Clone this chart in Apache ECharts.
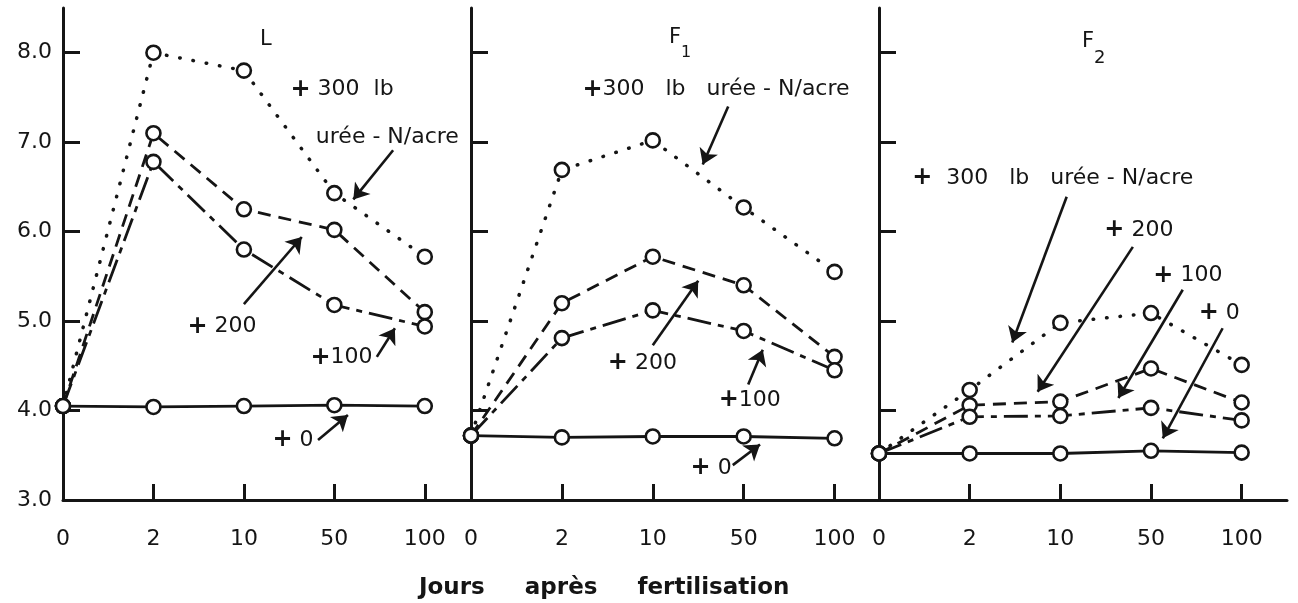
<!DOCTYPE html>
<html>
<head>
<meta charset="utf-8">
<script src="https://cdn.jsdelivr.net/npm/echarts@6/dist/echarts.min.js"></script>
<style>html,body{margin:0;padding:0;background:#fff;}#c{width:1298px;height:603px;}</style>
</head>
<body>
<div id="c"></div>
<script>
// ---- data ----
const days = ['0', '2', '10', '50', '100'];
const yTicks = [3, 4, 5, 6, 7, 8];
const panelNames = ['L', 'F1', 'F2'];

const L_0   = [4.05, 4.04, 4.05, 4.06, 4.05];
const L_100 = [4.05, 6.78, 5.80, 5.18, 4.94];
const L_200 = [4.05, 7.10, 6.25, 6.02, 5.10];
const L_300 = [4.05, 8.00, 7.80, 6.43, 5.72];

const F1_0   = [3.72, 3.70, 3.71, 3.71, 3.69];
const F1_100 = [3.72, 4.81, 5.12, 4.89, 4.45];
const F1_200 = [3.72, 5.20, 5.72, 5.40, 4.60];
const F1_300 = [3.72, 6.69, 7.02, 6.27, 5.55];

const F2_0   = [3.52, 3.52, 3.52, 3.55, 3.53];
const F2_100 = [3.52, 3.93, 3.94, 4.03, 3.89];
const F2_200 = [3.52, 4.06, 4.10, 4.47, 4.09];
const F2_300 = [3.52, 4.23, 4.98, 5.09, 4.51];

// annotation labels (data coordinates: x = day index, y = value)
const notesL  = [
  {x: 2.51, y: 7.59, t: '+ 300  lb'},
  {x: 2.79, y: 7.05, t: 'urée - N/acre'},
  {x: 1.37, y: 4.94, t: '+ 200'},
  {x: 2.73, y: 4.59, t: '+100'},
  {x: 2.31, y: 3.67, t: '+ 0'}
];
const arrowsL = [[3.65, 6.91, 3.21, 6.36], [2.00, 5.19, 2.64, 5.94], [3.47, 4.60, 3.67, 4.92], [2.82, 3.67, 3.15, 3.95]];
const notesF1 = [
  {x: 1.22, y: 7.59, t: '+300   lb   urée - N/acre'},
  {x: 1.50, y: 4.53, t: '+ 200'},
  {x: 2.72, y: 4.12, t: '+100'},
  {x: 2.41, y: 3.36, t: '+ 0'}
];
const arrowsF1 = [[2.83, 7.40, 2.55, 6.75], [2.00, 4.73, 2.50, 5.45], [3.05, 4.29, 3.21, 4.68], [2.88, 3.39, 3.18, 3.62]];
const notesF2 = [
  {x: 0.36, y: 6.60, t: '+  300   lb   urée - N/acre'},
  {x: 2.48, y: 6.02, t: '+ 200'},
  {x: 3.02, y: 5.51, t: '+ 100'},
  {x: 3.52, y: 5.09, t: '+ 0'}
];
const arrowsF2 = [[2.07, 6.39, 1.47, 4.76], [2.80, 5.83, 1.75, 4.21], [3.35, 5.35, 2.64, 4.14], [3.79, 4.92, 3.13, 3.69]];

// ---- build ----
const INK = '#151515';
const FONT = 'DejaVu Sans';
const panels = [
  {left: 63,  width: 407, s0: L_0,  s100: L_100,  s200: L_200,  s300: L_300,  notes: notesL,  arrows: arrowsL},
  {left: 471, width: 409, s0: F1_0, s100: F1_100, s200: F1_200, s300: F1_300, notes: notesF1, arrows: arrowsF1},
  {left: 879, width: 408, s0: F2_0, s100: F2_100, s200: F2_200, s300: F2_300, notes: notesF2, arrows: arrowsF2}
];
const toPts = arr => arr.map((v, i) => [i, v]);

const grid = [], xAxis = [], yAxis = [], series = [];
panels.forEach((p, k) => {
  grid.push({left: p.left, width: p.width, top: 8, bottom: 103});
  xAxis.push({
    type: 'value', gridIndex: k, min: 0, max: 4.5, interval: 1,
    axisLine: {show: true, lineStyle: {color: INK, width: 3}},
    axisTick: {show: true, inside: true, length: 16, lineStyle: {color: INK, width: 3}, customValues: [1, 2, 3, 4]},
    axisLabel: {show: true, customValues: [0, 1, 2, 3, 4], formatter: v => days[Math.round(v)], margin: 28,
      fontSize: 22, color: INK, fontFamily: FONT},
    splitLine: {show: false}
  });
  yAxis.push({
    type: 'value', gridIndex: k, min: 3, max: 8.5, interval: 1,
    axisLine: {show: true, lineStyle: {color: INK, width: 3}},
    axisTick: {show: true, inside: true, length: 17, lineStyle: {color: INK, width: 3}, customValues: [4, 5, 6, 7, 8]},
    axisLabel: {show: k === 0, customValues: yTicks, formatter: v => v.toFixed(1), margin: 11,
      fontSize: 22, color: INK, fontFamily: FONT},
    splitLine: {show: false}
  });
  const base = {
    type: 'line', xAxisIndex: k, yAxisIndex: k, symbol: 'circle', symbolSize: 14, showSymbol: true,
    itemStyle: {color: '#fff', borderColor: INK, borderWidth: 2.6}, silent: true
  };
  series.push(Object.assign({}, base, {name: '+300', data: toPts(p.s300), z: 2,
    lineStyle: {color: INK, width: 3.5, type: [0.5, 13], cap: 'round'}}));
  series.push(Object.assign({}, base, {name: '+200', data: toPts(p.s200), z: 3,
    lineStyle: {color: INK, width: 2.8, type: [13, 8]}}));
  series.push(Object.assign({}, base, {name: '+100', data: toPts(p.s100), z: 4,
    lineStyle: {color: INK, width: 2.8, type: [24, 7, 6, 7]}}));
  series.push(Object.assign({}, base, {name: '+0', data: toPts(p.s0), z: 5,
    lineStyle: {color: INK, width: 2.8, type: 'solid'},
    markPoint: {
      silent: true, symbol: 'circle', symbolSize: 1, itemStyle: {color: 'rgba(0,0,0,0)', borderWidth: 0},
      label: {
        show: true, position: 'right', distance: 0, color: INK, fontSize: 22, fontFamily: FONT,
        formatter: d => d.name.replace(/^\+/, '{p|+}'),
        rich: {p: {fontSize: 24, fontWeight: 'bold', color: INK, fontFamily: FONT}}
      },
      data: p.notes.map(n => ({name: n.t, coord: [n.x, n.y]}))
    }
  }));
  // annotation arrows
  series.push({
    type: 'lines', coordinateSystem: 'cartesian2d', xAxisIndex: k, yAxisIndex: k, silent: true, z: 6,
    symbol: ['none', 'arrow'], symbolSize: 15,
    lineStyle: {color: INK, width: 2.6, opacity: 1, curveness: 0},
    data: p.arrows.map(a => ({coords: [[a[0], a[1]], [a[2], a[3]]]}))
  });
});

const chart = echarts.init(document.getElementById('c'), null, {renderer: 'canvas'});
chart.setOption({
  animation: false,
  backgroundColor: '#fff',
  title: [
    {text: 'L', left: 255, top: 24, textStyle: {fontSize: 21, fontWeight: 'normal', color: INK, fontFamily: FONT}},
    {text: '{a|F}{b|1}', left: 664, top: 22, textStyle: {rich: {
      a: {fontSize: 21, fontWeight: 'normal', color: INK, fontFamily: FONT, verticalAlign: 'top', lineHeight: 24},
      b: {fontSize: 16, fontWeight: 'normal', color: INK, fontFamily: FONT, verticalAlign: 'bottom', padding: [18, 0, 0, 0]}}}},
    {text: '{a|F}{b|2}', left: 1077, top: 26, textStyle: {rich: {
      a: {fontSize: 21, fontWeight: 'normal', color: INK, fontFamily: FONT, verticalAlign: 'top', lineHeight: 24},
      b: {fontSize: 18, fontWeight: 'normal', color: INK, fontFamily: FONT, verticalAlign: 'bottom', padding: [18, 0, 0, 0]}}}},
    {text: 'Jours     après     fertilisation', left: 414, top: 572,
      textStyle: {fontSize: 23, fontWeight: 'bold', color: INK, fontFamily: FONT}}
  ],
  grid, xAxis, yAxis, series
});
</script>
</body>
</html>
